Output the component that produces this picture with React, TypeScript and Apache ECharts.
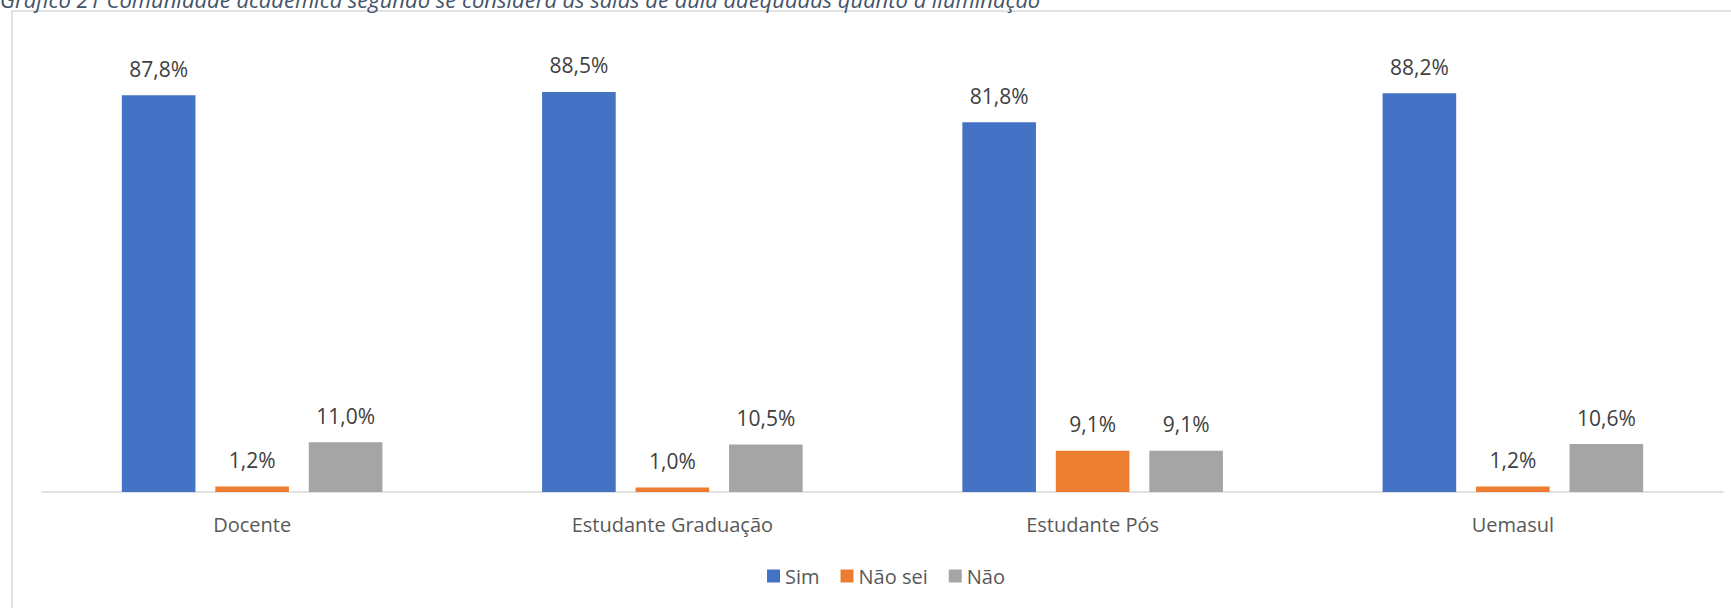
import React, { useEffect, useRef } from 'react';
import * as echarts from 'echarts';

const categories = ['Docente', 'Estudante Graduação', 'Estudante Pós', 'Uemasul'];
const seriesNames = ['Sim', 'Não sei', 'Não'];
const simValues = [87.8, 88.5, 81.8, 88.2];
const naoSeiValues = [1.2, 1.0, 9.1, 1.2];
const naoValues = [11.0, 10.5, 9.1, 10.6];
const seriesColors = ['#4472C4', '#ED7D31', '#A5A5A5'];
const titleText =
  'Gráfico 21 Comunidade acadêmica segundo se considera as salas de aula adequadas quanto à iluminação';

export default function App() {
  const ref = useRef<HTMLDivElement>(null);

  useEffect(() => {
    document.body.style.margin = '0';
    const chart = echarts.init(ref.current as HTMLDivElement, null, { renderer: 'svg' });
    const font = '"Open Sans", sans-serif';
    const makeLabel = () => ({
      show: true,
      position: 'top',
      distance: 16,
      color: '#404040',
      fontSize: 21,
      fontFamily: font,
      formatter: (p: any) => Number(p.value).toFixed(1).replace('.', ',') + '%',
    });
    const allValues = [simValues, naoSeiValues, naoValues];
    chart.setOption({
      animation: false,
      textStyle: { fontFamily: font },
      graphic: [
        {
          type: 'rect',
          z: -10,
          shape: { x: 12, y: 11, width: 1800, height: 700 },
          style: { fill: '#ffffff', stroke: '#d9d9d9', lineWidth: 1.5 },
        },
        {
          type: 'text',
          x: 0,
          y: 10,
          style: {
            text: titleText,
            fill: '#44546A',
            font: 'italic 22px "Open Sans", sans-serif',
            verticalAlign: 'bottom',
            textVerticalAlign: 'bottom',
          },
        },
      ],
      legend: {
        data: seriesNames,
        left: 762,
        top: 561,
        itemWidth: 13,
        itemHeight: 13,
        itemGap: 21,
        icon: 'rect',
        textStyle: { color: '#595959', fontSize: 20, fontFamily: font },
      },
      grid: { left: 42, right: 8, top: 40, bottom: 116, containLabel: false },
      xAxis: {
        type: 'category',
        data: categories,
        axisLine: { lineStyle: { color: '#d9d9d9', width: 1.5 } },
        axisTick: { show: false },
        axisLabel: { color: '#595959', fontSize: 20, fontFamily: font, margin: 22 },
      },
      yAxis: {
        type: 'value',
        min: 0,
        max: 100,
        show: false,
        splitLine: { show: false },
      },
      series: seriesNames.map((name, i) => ({
        name,
        type: 'bar',
        data: allValues[i],
        barGap: '27%',
        barCategoryGap: '38%',
        itemStyle: { color: seriesColors[i] },
        label: makeLabel(),
      })),
    });
    return () => chart.dispose();
  }, []);

  return <div ref={ref} style={{ width: 1731, height: 608 }} />;
}
